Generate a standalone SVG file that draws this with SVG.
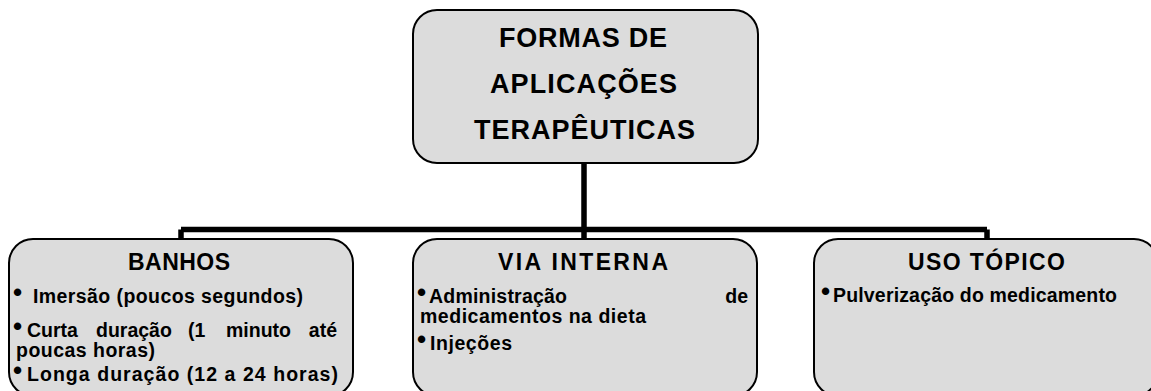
<svg xmlns="http://www.w3.org/2000/svg" width="1151" height="391" viewBox="0 0 1151 391">
<style>
.box{fill:#dcdcdc;stroke:#000;stroke-width:2}
.conn{fill:none;stroke:#000;stroke-width:5.5}
text{font-family:"Liberation Sans",Arial,sans-serif;font-weight:bold;fill:#000}
.t1{font-size:27px}
.h{font-size:23px}
.b{font-size:19.5px}
.dot{font-size:26px}
</style>
<rect width="1151" height="391" fill="#fff"/>
<g id="connectors">
<path class="conn" d="M584,163 V239 M181,229.5 H987 M181,229.5 V239 M987,229.5 V239"/>
</g>
<g id="node-top">
<rect class="box" x="413" y="10" width="345" height="153" rx="24"/>
<text class="t1" x="499" y="47" textLength="168" lengthAdjust="spacing">FORMAS DE</text>
<text class="t1" x="490" y="93" textLength="187" lengthAdjust="spacing">APLICAÇÕES</text>
<text class="t1" x="474" y="139" textLength="221" lengthAdjust="spacing">TERAPÊUTICAS</text>
</g>
<g id="node-banhos">
<rect class="box" x="9" y="239" width="344" height="157" rx="24"/>
<text class="h" x="128" y="270" textLength="102" lengthAdjust="spacing">BANHOS</text>
<text class="dot" x="13" y="301">•</text>
<text class="b" x="33" y="303" textLength="270" lengthAdjust="spacing">Imersão (poucos segundos)</text>
<text class="dot" x="13" y="335">•</text>
<text class="b" y="337"><tspan x="27">Curta</tspan><tspan x="96">duração</tspan><tspan x="188">(1</tspan><tspan x="226">minuto</tspan><tspan x="337" text-anchor="end">até</tspan></text>
<text class="b" x="16" y="357" textLength="139" lengthAdjust="spacing">poucas horas)</text>
<text class="dot" x="13" y="379">•</text>
<text class="b" x="27" y="381" textLength="311" lengthAdjust="spacing">Longa duração (12 a 24 horas)</text>
</g>
<g id="node-via-interna">
<rect class="box" x="413" y="239" width="344" height="157" rx="24"/>
<text class="h" x="498" y="270" textLength="170" lengthAdjust="spacing">VIA INTERNA</text>
<text class="dot" x="417" y="301">•</text>
<text class="b" x="429" y="303" textLength="138" lengthAdjust="spacing">Administração</text>
<text class="b" x="748" y="303" text-anchor="end">de</text>
<text class="b" x="420" y="323" textLength="226" lengthAdjust="spacing">medicamentos na dieta</text>
<text class="dot" x="417" y="348">•</text>
<text class="b" x="430" y="350" textLength="82" lengthAdjust="spacing">Injeções</text>
</g>
<g id="node-uso-topico">
<rect class="box" x="814" y="239" width="344" height="157" rx="24"/>
<text class="h" x="908" y="270" textLength="157" lengthAdjust="spacing">USO TÓPICO</text>
<text class="dot" x="821" y="300">•</text>
<text class="b" x="833" y="302" textLength="284" lengthAdjust="spacing">Pulverização do medicamento</text>
</g>
</svg>
